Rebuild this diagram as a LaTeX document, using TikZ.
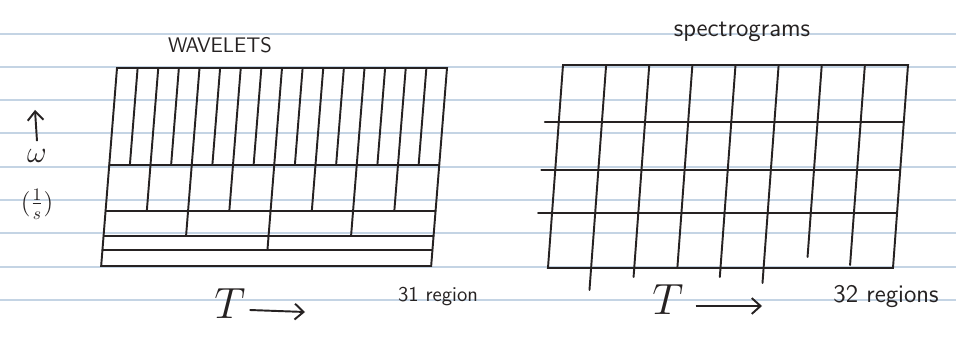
\documentclass[tikz,border=0pt]{standalone}
\usepackage{amsmath}
\usepackage{tikz}
\usetikzlibrary{arrows.meta, positioning}
\definecolor{ink}{RGB}{38,34,34}
\definecolor{ruling}{RGB}{196,212,228}
\tikzset{
  pen/.style={draw=ink,line width=1.1pt,line cap=round},
  rule/.style={draw=ruling,line width=0.8pt},
  scrawl/.style={text=ink,font=\sffamily\large,inner sep=1pt},
  bigt/.style={text=ink,font=\sffamily\Huge,inner sep=1pt},
  arrow/.style={-{Straight Barb[length=5pt,width=9pt]},draw=ink,line width=1.1pt}
}

\begin{document}
\begin{tikzpicture}[x=0.02cm,y=-0.02cm]
  \useasboundingbox (0,0) rectangle (956,337);
  \fill[white] (0,0) rectangle (956,337);
  % ruled paper
  \foreach \ry in {34,67,100,133,167,200,233,267,300}
    \draw[rule] (0,\ry) -- (956,\ry);

  % wavelet tiling: 16 + 8 + 4 + 2 + 1 cells
  \begin{scope}[shift={(117,68)},xslant=0.08]
    \draw[pen] (0,0) rectangle (330,198);
    \foreach \hy in {97,143,168,182}
      \draw[pen] (0,\hy) -- (330,\hy);
    \foreach \i in {1,...,15}
      \draw[pen] (\i*20.625,0) -- (\i*20.625,97);
    \foreach \i in {1,...,7}
      \draw[pen] (\i*41.25,97) -- (\i*41.25,143);
    \foreach \i in {1,2,3}
      \draw[pen] (\i*82.5,143) -- (\i*82.5,168);
    \draw[pen] (165,168) -- (165,182);
  \end{scope}

  % spectrogram tiling: 8 x 4 cells
  \begin{scope}[shift={(563,65)},xslant=0.074]
    \draw[pen] (0,0) rectangle (345,203);
    \foreach \hy in {57,105,148}
      \draw[pen] (-14,\hy) -- (345,\hy);
    \foreach \i/\e in {1/225,2/212,3/203,4/212,5/218,6/192,7/200}
      \draw[pen] (\i*43.125,0) -- (\i*43.125,\e);
  \end{scope}

  % labels
  \node[scrawl] (wavtitle) at (220,45) {WAVELETS};
  \node[scrawl,font=\sffamily\Large] (spectitle) at (742,32) {spectrograms};
  \node[scrawl,font=\sffamily\LARGE,inner sep=0pt] (omega) at (37,156) {$\omega$};
  \node[scrawl,font=\sffamily\Large,inner sep=0pt] (unit) at (37,204) {$(\tfrac{1}{s})$};
  \coordinate (omegatip) at (35,110);
  \draw[arrow] (omega.north) ++(0,-8) -- (omegatip);

  \node[bigt] (tleft) at (230,304) {$T$};
  \coordinate (tlefttip) at (305,312);
  \draw[arrow] (tleft.east) ++(2,6) -- (tlefttip);
  \node[scrawl] (nleft) at (438,297) {31 region};

  \node[bigt] (tright) at (668,300) {$T$};
  \coordinate (trighttip) at (762,306);
  \draw[arrow] (tright.east) ++(10,6) -- (trighttip);
  \node[scrawl,font=\sffamily\Large] (nright) at (886,297) {32 regions};
\end{tikzpicture}
\end{document}
